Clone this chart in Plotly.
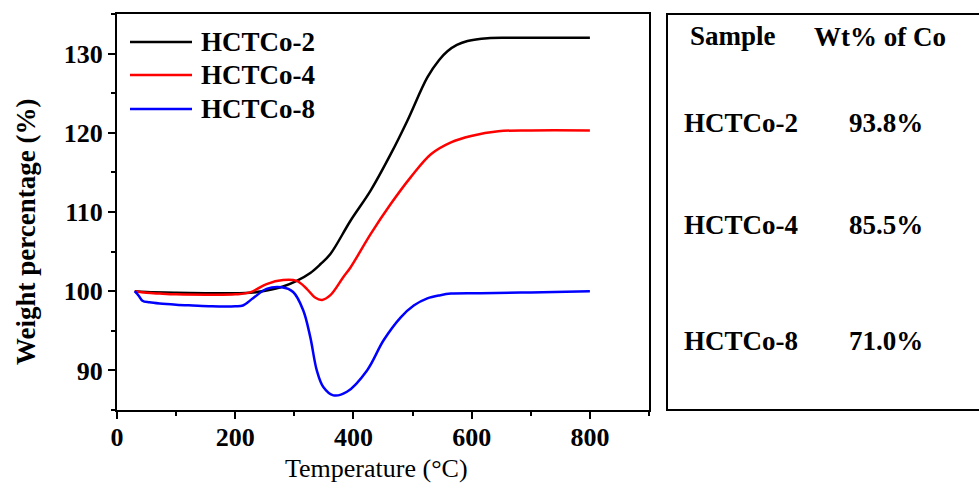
import plotly.graph_objects as go

# ---------------- data ----------------
series_names = ["HCTCo-2", "HCTCo-4", "HCTCo-8"]

t_co2 = [30, 50, 100, 150, 200, 225, 253, 281, 304, 327, 344, 361, 395, 429, 463, 491, 525, 545, 559, 575, 593, 627, 660, 700, 800]
w_co2 = [100.0, 99.9, 99.8, 99.75, 99.75, 99.8, 100.1, 100.6, 101.3, 102.3, 103.4, 104.7, 108.9, 112.7, 117.3, 121.5, 127.0, 129.2, 130.3, 131.1, 131.6, 131.95, 132.0, 132.0, 132.0]

t_co4 = [30, 50, 72, 100, 157, 200, 225, 253, 281, 304, 321, 335, 347, 361, 383, 395, 429, 463, 497, 531, 565, 599, 645, 700, 800]
w_co4 = [100.0, 99.8, 99.7, 99.6, 99.55, 99.6, 99.85, 100.9, 101.4, 101.3, 100.3, 99.2, 98.9, 99.5, 101.8, 103.0, 107.2, 111.0, 114.4, 117.3, 118.8, 119.6, 120.2, 120.3, 120.3]

t_co8 = [30, 37, 43, 55, 72, 100, 128, 160, 200, 213, 230, 253, 279, 298, 315, 327, 338, 349, 366, 389, 423, 451, 480, 502, 525, 547, 565, 615, 700, 800]
w_co8 = [100.0, 99.4, 98.8, 98.6, 98.45, 98.3, 98.2, 98.1, 98.1, 98.2, 99.1, 100.3, 100.5, 99.9, 97.6, 94.2, 90.0, 87.9, 86.85, 87.3, 90.0, 93.8, 96.7, 98.2, 99.1, 99.5, 99.7, 99.75, 99.85, 100.0]

x_ticks = [0, 200, 400, 600, 800]
y_ticks = [90, 100, 110, 120, 130]

table_header = ["Sample", "Wt% of Co"]
table_samples = ["HCTCo-2", "HCTCo-4", "HCTCo-8"]
table_co = ["93.8%", "85.5%", "71.0%"]

# ---------------- layout helpers ----------------
W, H = 979, 484
PL, PR, PT, PB = 117, 649, 14, 410
def px(xp):
    return (xp - PL) / (PR - PL)
def py(yp):
    return (PB - yp) / (PB - PT)

FONT = "Liberation Serif"
colors = ["#000000", "#ff0000", "#0000ff"]

fig = go.Figure()
for name, xs, ys, c in zip(series_names, [t_co2, t_co4, t_co8], [w_co2, w_co4, w_co8], colors):
    fig.add_trace(go.Scatter(x=xs, y=ys, mode="lines", name=name,
                             line=dict(color=c, width=2.5, shape="spline", smoothing=1.0),
                             showlegend=False))

axis_common = dict(showline=True, linecolor="black", linewidth=2, mirror=True,
                   ticks="outside", ticklen=7, tickwidth=2, tickcolor="black",
                   showgrid=False, zeroline=False, automargin=False,
                   tickfont=dict(family=FONT, size=26, color="black"))

fig.update_xaxes(range=[0, 900], tickvals=x_ticks, ticktext=[f"<b>{v}</b>" for v in x_ticks],
                 ticklabelstandoff=-4,
                 minor=dict(ticks="outside", ticklen=4, tickwidth=2, tickcolor="black", dtick=100, tick0=0),
                 **axis_common)
fig.update_yaxes(range=[85, 135], tickvals=y_ticks, ticktext=[f"<b>{v}</b>" for v in y_ticks],
                 minor=dict(ticks="outside", ticklen=4, tickwidth=2, tickcolor="black", dtick=5, tick0=0),
                 **axis_common)

shapes = []
annotations = []

# custom legend
leg_y = [42, 75, 109]
for name, c, yy in zip(series_names, colors, leg_y):
    shapes.append(dict(type="line", xref="paper", yref="paper", x0=px(130), x1=px(192),
                       y0=py(yy), y1=py(yy), line=dict(color=c, width=2.5)))
    annotations.append(dict(xref="paper", yref="paper", x=px(199), y=py(yy), xanchor="left", yanchor="middle",
                            text=f"<b>{name}</b>", showarrow=False,
                            font=dict(family=FONT, size=27, color="black")))

# table box
shapes.append(dict(type="rect", xref="paper", yref="paper", x0=px(667), x1=px(995), y0=py(410), y1=py(14),
                   line=dict(color="black", width=2), fillcolor="rgba(0,0,0,0)"))

col_x = [741, 884]
TS = 27
annotations.append(dict(xref="paper", yref="paper", x=px(col_x[0] - 8), y=py(36), text=f"<b>{table_header[0]}</b>",
                        showarrow=False, xanchor="center", yanchor="middle",
                        font=dict(family=FONT, size=TS, color="black")))
annotations.append(dict(xref="paper", yref="paper", x=px(col_x[1] - 4), y=py(37), text=f"<b>{table_header[1]}</b>",
                        showarrow=False, xanchor="center", yanchor="middle",
                        font=dict(family=FONT, size=TS, color="black")))
row_y = [123, 225, 341]
for s, v, yy in zip(table_samples, table_co, row_y):
    annotations.append(dict(xref="paper", yref="paper", x=px(col_x[0]), y=py(yy), text=f"<b>{s}</b>",
                            showarrow=False, xanchor="center", yanchor="middle",
                            font=dict(family=FONT, size=TS, color="black")))
    annotations.append(dict(xref="paper", yref="paper", x=px(col_x[1] + 2), y=py(yy), text=f"<b>{v}</b>",
                            showarrow=False, xanchor="center", yanchor="middle",
                            font=dict(family=FONT, size=TS, color="black")))

# axis titles
annotations.append(dict(xref="paper", yref="paper", x=px(376), y=py(468), text="Temperature (°C)",
                        showarrow=False, xanchor="center", yanchor="middle",
                        font=dict(family=FONT, size=26, color="black")))
annotations.append(dict(xref="paper", yref="paper", x=px(26), y=py(232), text="<b>Weight percentage (%)</b>",
                        showarrow=False, xanchor="center", yanchor="middle", textangle=-90,
                        font=dict(family=FONT, size=27, color="black")))

fig.update_layout(width=W, height=H, margin=dict(l=PL, r=W - PR, t=PT, b=H - PB),
                  paper_bgcolor="white", plot_bgcolor="white",
                  shapes=shapes, annotations=annotations, showlegend=False)

fig.write_html("out.html", config={"displayModeBar": False},
               post_script="document.body.style.margin='0';document.body.style.padding='0';document.body.style.overflow='hidden';")
